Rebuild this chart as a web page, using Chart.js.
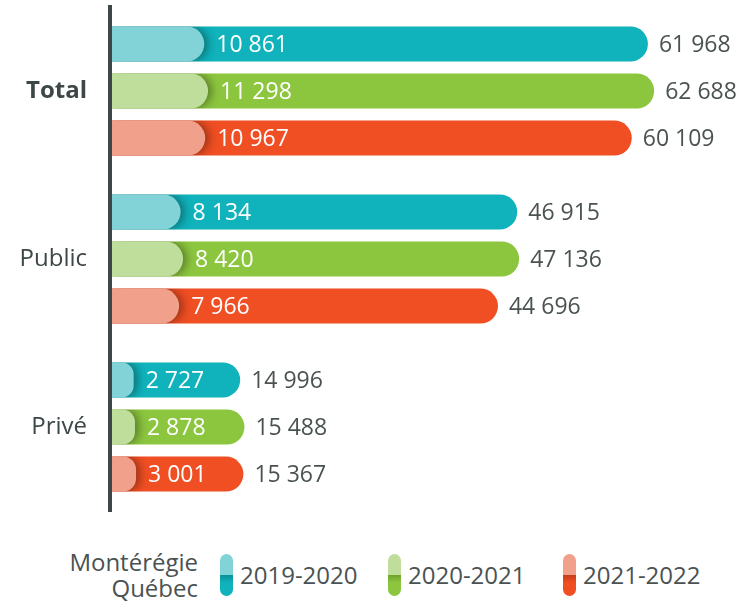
<!DOCTYPE html>
<html>
<head>
<meta charset="utf-8">
<script src="https://cdn.jsdelivr.net/npm/chart.js@4"></script>
<style>
  html, body { margin: 0; padding: 0; background: #fff; }
  body { width: 748px; height: 601px; position: relative; overflow: hidden; font-family: "Open Sans", sans-serif; }
  #wrap { position: absolute; left: 0; top: 0; width: 748px; height: 530px; }
  .legend { position: absolute; top: 549px; left: 0; width: 748px; height: 52px; color: #4a5252; font-size: 24px; }
  .legend .who { position: absolute; right: 550px; top: 0; text-align: right; line-height: 26px; }
  .legend .item { position: absolute; top: 5px; display: flex; align-items: center; }
  .legend .sw { width: 13px; height: 42px; border-radius: 7px; margin-right: 7px; }
  .legend .lab { line-height: 42px; }
</style>
</head>
<body>
<div id="wrap"><canvas id="chart"></canvas></div>
<div class="legend" id="legend">
  <div class="who">Montérégie<br>Québec</div>
</div>
<script>
const categories = ["Total", "Public", "Privé"]
const years = ["2019-2020", "2020-2021", "2021-2022"]

const monteregie2019 = [10861, 8134, 2727]
const monteregie2020 = [11298, 8420, 2878]
const monteregie2021 = [10967, 7966, 3001]

const quebec2019 = [61968, 46915, 14996]
const quebec2020 = [62688, 47136, 15488]
const quebec2021 = [60109, 44696, 15367]

const darkColors = ["#10b2bb", "#8cc63f", "#f04e23"]
const lightColors = ["#81d3d7", "#bfdd9b", "#f0a08b"]
const shadeColors = ["#0b8f97", "#6fa22d", "#c63d19"]

const fmt = (v) => String(v).replace(/\B(?=(\d{3})+(?!\d))/g, " ")

const monteregie = [monteregie2019, monteregie2020, monteregie2021]
const quebec = [quebec2019, quebec2020, quebec2021]

// one stack per year: the Montérégie bar sits over the Québec bar
const datasets = []
monteregie.forEach((data, i) => {
  datasets.push({
    label: "Montérégie " + years[i],
    data,
    kind: "mont",
    stack: years[i],
    backgroundColor: lightColors[i],
    borderRadius: 20,
    borderSkipped: "start",
    barPercentage: 0.745,
    categoryPercentage: 0.84
  })
})
quebec.forEach((data, i) => {
  datasets.push({
    label: "Québec " + years[i],
    data,
    kind: "qc",
    stack: years[i],
    backgroundColor: darkColors[i],
    borderRadius: 20,
    borderSkipped: "start",
    barPercentage: 0.745,
    categoryPercentage: 0.84
  })
})

// shadow to the right of the Montérégie bars, clipped to the bar rows
const shadowPlugin = {
  id: "shadow",
  beforeDatasetDraw(chart, args) {
    const ds = chart.data.datasets[args.index]
    if (ds.kind !== "mont") return
    const ctx = chart.ctx
    ctx.save()
    ctx.beginPath()
    args.meta.data.forEach((el) => {
      ctx.rect(chart.chartArea.left, el.y - el.height / 2, chart.chartArea.width, el.height)
    })
    ctx.clip()
    ctx.shadowColor = "rgba(0,0,0,0.35)"
    ctx.shadowBlur = 9
    ctx.shadowOffsetX = 4
  },
  afterDatasetDraw(chart, args) {
    const ds = chart.data.datasets[args.index]
    if (ds.kind !== "mont") return
    chart.ctx.restore()
  }
}

const valueLabels = {
  id: "valueLabels",
  afterDatasetsDraw(chart) {
    const ctx = chart.ctx
    ctx.save()
    ctx.textBaseline = "middle"
    ctx.textAlign = "left"
    chart.data.datasets.forEach((ds, i) => {
      const meta = chart.getDatasetMeta(i)
      meta.data.forEach((el, j) => {
        if (ds.kind === "mont") {
          ctx.fillStyle = "#ffffff"
          ctx.font = "500 23px 'Open Sans'"
          ctx.fillText(fmt(ds.data[j]), el.x + 12, el.y + 1)
        } else {
          ctx.fillStyle = "#4a5252"
          ctx.font = "400 23px 'Open Sans'"
          ctx.fillText(fmt(ds.data[j]), el.x + 11, el.y + 1)
        }
      })
    })
    ctx.restore()
  }
}

new Chart(document.getElementById("chart"), {
  type: "bar",
  data: { labels: categories, datasets },
  options: {
    indexAxis: "y",
    responsive: true,
    maintainAspectRatio: false,
    animation: false,
    layout: { padding: { top: 7, bottom: 19, right: 0, left: 0 } },
    plugins: {
      legend: { display: false },
      tooltip: { enabled: false }
    },
    scales: {
      x: {
        display: false,
        stacked: false,
        min: 0,
        max: 73500
      },
      y: {
        position: "left",
        offset: true,
        grid: { display: false, drawTicks: false },
        border: { display: true, color: "#3d4747", width: 4, z: 1 },
        ticks: {
          padding: 23,
          color: "#3d4747",
          font: (c) => ({ family: "Open Sans", size: 24, weight: c.index === 0 ? "bold" : "normal" })
        },
        afterFit: (scale) => {
          scale.width = 110
          scale.paddingTop = 0
          scale.paddingBottom = 0
        }
      }
    }
  },
  plugins: [shadowPlugin, valueLabels]
})

// legend built from the same series names and colours
const legend = document.getElementById("legend")
const lefts = [220, 388, 563]
years.forEach((y, i) => {
  const item = document.createElement("div")
  item.className = "item"
  item.style.left = lefts[i] + "px"
  const sw = document.createElement("div")
  sw.className = "sw"
  sw.style.background = `linear-gradient(to bottom, ${lightColors[i]} 0%, ${lightColors[i]} 50%, ${shadeColors[i]} 50%, ${darkColors[i]} 68%, ${darkColors[i]} 100%)`
  const lab = document.createElement("div")
  lab.className = "lab"
  lab.textContent = y
  item.appendChild(sw)
  item.appendChild(lab)
  legend.appendChild(item)
})
</script>
</body>
</html>
